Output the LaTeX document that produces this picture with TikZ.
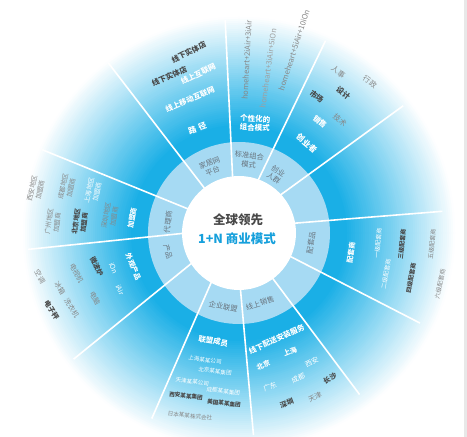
\documentclass[tikz,border=0pt]{standalone}
\usepackage{fontspec}
\setmainfont{Noto Sans CJK SC}
\usetikzlibrary{calc}
\definecolor{cyanx}{RGB}{26,175,230}
\definecolor{ringc}{RGB}{166,218,243}
\definecolor{titlec}{RGB}{22,160,220}
\definecolor{dkg}{RGB}{72,72,72}
\definecolor{mdg}{RGB}{135,135,135}
\definecolor{ing}{RGB}{105,116,126}
\definecolor{edgeg}{RGB}{232,232,232}
\begin{document}
\begin{tikzpicture}[x=1pt,y=1pt,
  txt/.style={inner sep=0pt, align=center},
  wt/.style={txt, text=white, font=\fontsize{#1}{8.2}\selectfont},
  wt/.default=7,
  wtb/.style={txt, text=white, font=\bfseries\fontsize{#1}{8.8}\selectfont},
  wtb/.default=7.5,
  dk/.style={txt, text=dkg, font=\bfseries\fontsize{#1}{8.2}\selectfont},
  dk/.default=7,
  gr/.style={txt, text=mdg, font=\fontsize{#1}{8.2}\selectfont},
  gr/.default=7,
  inr/.style={txt, text=ing, font=\fontsize{7.3}{8.6}\selectfont},
  radline/.style={white, line width=1.6pt},
]
\useasboundingbox (0,0) rectangle (467,437);
\clip (0,0) rectangle (467,437);
\fill[white] (0,0) rectangle (467,437);
\coordinate (O) at (239,204);
\coordinate (L) at (235,209);
% gradient disc
\foreach \r in {222,220,...,98} {
  \pgfmathtruncatemacro\p{max(0,min(100,100*(218-\r)/110))}
  \fill[cyanx!\p!white] (O) circle (\r);
}
% light ring
\fill[ringc] (O) circle (91);
% sector separators
\foreach \a in {92.7,64.2,36,4.6,-27.2,-53.2,-84.9,-113.6,-140.9,-174.1,157.9,127.5} {
  \draw[radline] ($(L)+(\a:40)$) -- ($(L)+(\a:208)$);
}
% centre disc
\fill[white] (O) circle (57);
\fill[edgeg] (464,0) rectangle (467,437);

% centre title
\node[txt, text=dkg, font=\bfseries\fontsize{12.5}{14}\selectfont] (t1) at (238,217) {全球领先};
\node[txt, text=titlec, font=\bfseries\fontsize{12.5}{14}\selectfont] (t2) at (237,198) {1+N 商业模式};

% inner ring labels
\node[inr, rotate=22] (i1) at (211,270) {家居网\\平台};
\node[inr, rotate=-6] (i2) at (249,277) {标准组合\\模式};
\node[inr, rotate=-33] (i3) at (276,262) {创业\\人群};
\node[inr, rotate=82] (i4) at (311,194) {配套品};
\node[inr, rotate=17] (i5) at (260,133.7) {线上销售};
\node[inr, rotate=-12] (i6) at (223.3,130.3) {企业联盟};
\node[inr, rotate=-75] (i7) at (168,185) {产品};
\node[inr, rotate=83] (i8) at (168,215) {代理商};

% path sector
\node[dk=7.5, rotate=27] (a1) at (188.7,384.7) {线下实体店};
\node[dk=7.5, rotate=24] (a2) at (169.3,361) {线下实体店};
\node[wtb, rotate=26] (a3) at (198.3,363) {线上互联网};
\node[wtb, rotate=23] (a4) at (190,337.7) {线上移动互联网};
\node[wtb=8, rotate=20] (a5) at (197.3,308.7) {路\hspace{2.5pt}径};

% personalised combination sector
\node[gr=7.6, rotate=87] (b1) at (246.7,377) {homeheart+2iAir+3iAir};
\node[gr=7.6, rotate=82, text=mdg!80] (b2) at (268,368.7) {homeheart+3iAir+5iOn};
\node[gr=7.6, rotate=72] (b3) at (294,387) {homeheart+5iAir+10iOn};
\node[wtb, rotate=-3] (b4) at (255,313.7) {个性化的\\组合模式};

% entrepreneur sector
\node[gr=7.5, rotate=-35] (c1) at (338.3,365.3) {人事};
\node[gr=7.5, rotate=-35] (c2) at (370,355.3) {行政};
\node[dk=7.5, rotate=-38] (c3) at (316.7,340.3) {市场};
\node[dk=7.5, rotate=-38] (c4) at (343.3,343.7) {设计};
\node[wtb, rotate=-40] (c5) at (320,315.3) {销售};
\node[gr=7.5, rotate=-40] (c6) at (340,317) {技术};
\node[wtb=8, rotate=-40] (c7) at (306.7,293.7) {创业者};

% supplier sector
\node[wtb=7, rotate=82] (d1) at (351,184) {配套商};
\node[wt=6, rotate=84] (d2) at (378,194) {一级配套商};
\node[wt=6, rotate=80] (d3) at (386,163) {二级配套商};
\node[dk=6, rotate=84] (d4) at (402,193) {三级配套商};
\node[dk=6, rotate=80] (d5) at (411,159) {四级配套商};
\node[gr=6, rotate=84] (d6) at (432,193) {五级配套商};
\node[gr=6, rotate=78] (d7) at (440,153) {六级配套商};

% online sales / delivery sector
\node[wtb, rotate=24] (e1) at (276.7,97.7) {线下配送安装服务};
\node[wtb=7, rotate=22] (e2) at (263.3,72) {北京};
\node[wtb=7, rotate=22] (e3) at (290,85.3) {上海};
\node[wt=7, rotate=26] (e4) at (311.7,75.3) {西安};
\node[wt=7, rotate=22] (e5) at (270,50.3) {广东};
\node[wt=7, rotate=24] (e6) at (298.3,58.7) {成都};
\node[dk=7, rotate=30] (e7) at (330,58.7) {长沙};
\node[dk=7, rotate=20] (e8) at (286.7,33.7) {深圳};
\node[gr=7, rotate=26] (e9) at (315,40.3) {天津};

% alliance sector
\node[wtb, rotate=-10] (f1) at (213.3,96) {联盟成员};
\node[wt=5.6, rotate=-8] (f2) at (205,77) {上海某某公司};
\node[wt=5.6, rotate=-8] (f3) at (215,65.7) {北京某某集团};
\node[wt=5.6, rotate=-8] (f4) at (192.3,55.3) {天津某某公司};
\node[wt=5.6, rotate=-8] (f5) at (223.3,45.7) {成都某某集团};
\node[dk=5.6, rotate=-6] (f6) at (186,41) {西安某某集团};
\node[dk=5.6, rotate=-6] (f7) at (224,33.7) {美国某某集团};
\node[gr=5.6, rotate=-6] (f8) at (190,21) {日本某某株式会社};

% product sector
\node[wtb=7, rotate=-67] (g1) at (133.3,170.3) {外观产品};
\node[wt=7, rotate=-67] (g2) at (113.3,168.7) {iOn};
\node[wt=7, rotate=-67] (g3) at (120,147) {iAir};
\node[dk=7, rotate=-65] (g4) at (96.7,170.3) {微波炉};
\node[gr=7, rotate=-62] (g5) at (76.7,163.7) {电视机};
\node[gr=7, rotate=-62] (g6) at (95,138.7) {电脑};
\node[gr=7, rotate=-60] (g7) at (40,160.3) {空调};
\node[gr=7, rotate=-60] (g8) at (60,148.7) {冰箱};
\node[dk=7, rotate=-58] (g9) at (51.7,127) {电子秤};
\node[gr=7, rotate=-58] (g10) at (71.7,128.7) {洗衣机};

% agent sector
\node[wtb=7, rotate=80] (h1) at (132,219) {加盟商};
\node[gr=6.5, rotate=80] (h2) at (110,221) {深圳地区\\加盟商};
\node[wt=6.5, rotate=78] (h3) at (93,246) {上海地区\\加盟商};
\node[dk=6.5, rotate=82] (h4) at (80,215) {北京地区\\加盟商};
\node[gr=6.5, rotate=82] (h5) at (53,215) {广州地区\\加盟商};
\node[gr=6.5, rotate=78] (h6) at (67,250) {成都地区\\加盟商};
\node[gr=6.5, rotate=78] (h7) at (36,248) {西安地区\\加盟商};
\end{tikzpicture}
\end{document}
